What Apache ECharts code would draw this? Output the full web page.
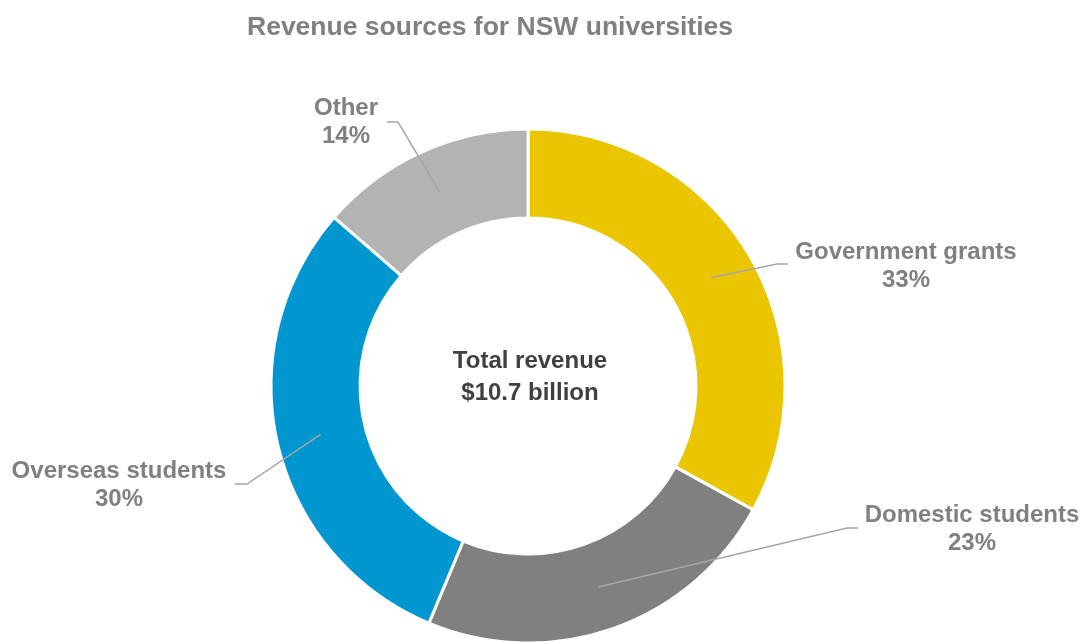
<!DOCTYPE html>
<html>
<head>
<meta charset="utf-8">
<script src="https://cdn.jsdelivr.net/npm/echarts@6/dist/echarts.min.js"></script>
<style>html,body{margin:0;padding:0;background:#fff;}#c{width:1086px;height:642px;}</style>
</head>
<body>
<div id="c"></div>
<script>
const categories = ['Government grants', 'Domestic students', 'Overseas students', 'Other'];
const shares = [33.0, 23.3, 30.1, 13.6];
const colors = ['#EAC500', '#808080', '#0096CF', '#B3B3B3'];
const titleText = 'Revenue sources for NSW universities';
const centerLines = ['Total revenue', '$10.7 billion'];

// label placement (text centre, elbow, end of leader line)
const labelPlaces = [
  { x: 906, y: 266, elbow: [777, 264], end: [788, 264] },
  { x: 972, y: 529, elbow: [847, 528], end: [858, 528] },
  { x: 119, y: 485, elbow: [247, 484], end: [235, 484] },
  { x: 346, y: 122, elbow: [398, 122], end: [387, 122] }
];

const data = categories.map((name, i) => ({ name, value: shares[i], itemStyle: { color: colors[i] } }));
const labelData = categories.map((name, i) => ({ name, value: shares[i] }));

const chart = echarts.init(document.getElementById('c'), null, { renderer: 'canvas' });
chart.setOption({
  backgroundColor: '#ffffff',
  animation: false,
  title: [
    {
      text: titleText,
      left: 485, top: 9, textAlign: 'center',
      textStyle: { fontFamily: 'Liberation Sans, Arial, sans-serif', fontSize: 26.5, fontWeight: 'bold', color: '#808080' }
    },
    {
      text: centerLines.join('\n'),
      left: 525, top: 340, textAlign: 'center',
      textStyle: { fontFamily: 'Liberation Sans, Arial, sans-serif', fontSize: 24, fontWeight: 'bold', color: '#404040', lineHeight: 32 }
    }
  ],
  series: [
    {
      type: 'pie',
      center: [528, 386],
      radius: [168, 257],
      startAngle: 90,
      clockwise: true,
      silent: true,
      label: { show: false },
      labelLine: { show: false },
      itemStyle: { borderColor: '#ffffff', borderWidth: 3 },
      data: data,
      z: 1
    },
    {
      type: 'pie',
      center: [528, 386],
      radius: [0, 213],
      startAngle: 90,
      clockwise: true,
      silent: true,
      itemStyle: { color: 'rgba(0,0,0,0)', borderWidth: 0 },
      label: {
        show: true,
        position: 'outside',
        formatter: p => p.name + '\n' + Math.round(p.value) + '%',
        fontFamily: 'Liberation Sans, Arial, sans-serif',
        fontSize: 24,
        fontWeight: 'bold',
        color: '#808080',
        lineHeight: 28,
        align: 'center'
      },
      labelLine: { show: true, lineStyle: { color: '#A6A6A6', width: 1.5 } },
      labelLayout: function (params) {
        const p = labelPlaces[params.dataIndex];
        const anchor = params.labelLinePoints ? params.labelLinePoints[0] : p.elbow;
        return {
          x: p.x, y: p.y, align: 'center', verticalAlign: 'middle',
          labelLinePoints: [anchor, p.elbow, p.end]
        };
      },
      data: labelData,
      z: 5
    }
  ]
});
</script>
</body>
</html>
